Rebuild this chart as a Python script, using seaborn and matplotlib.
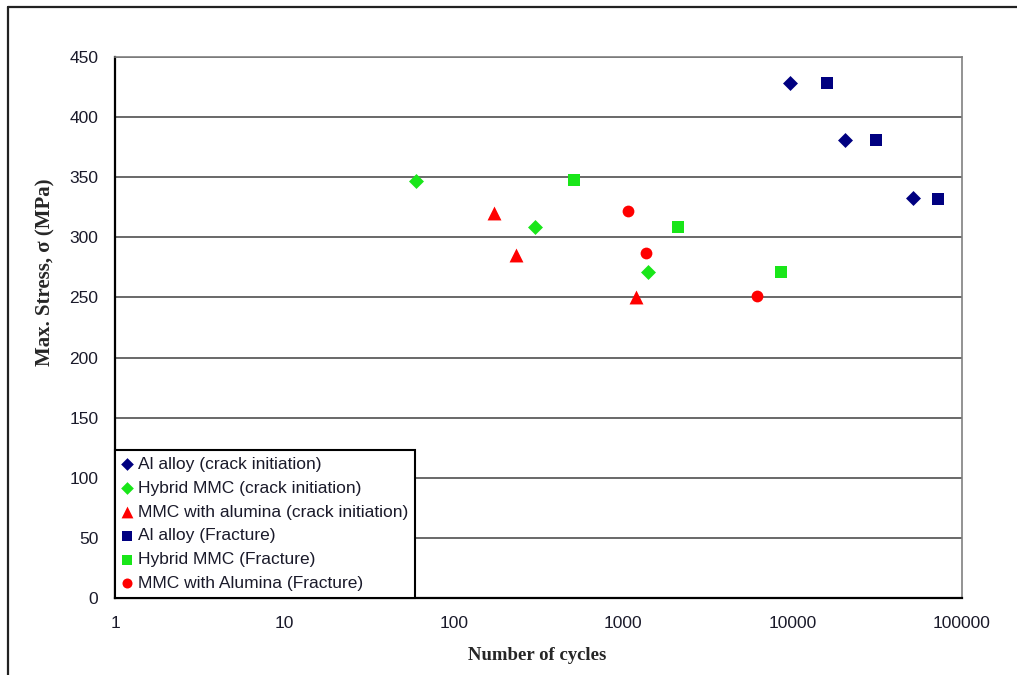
import matplotlib
matplotlib.use("Agg")
import matplotlib.pyplot as plt
from matplotlib.lines import Line2D
import seaborn as sns
import pandas as pd

# Fatigue test results: cycles to crack initiation / fracture at each stress level
series_names = [
    "Al alloy (crack initiation)",
    "Hybrid MMC (crack initiation)",
    "MMC with alumina (crack initiation)",
    "Al alloy (Fracture)",
    "Hybrid MMC (Fracture)",
    "MMC with Alumina (Fracture)",
]

al_init_cycles = [9650, 20400, 51400]
al_init_stress = [428, 381, 333]

hybrid_init_cycles = [60, 301, 1400]
hybrid_init_stress = [347, 309, 271]

alumina_init_cycles = [173, 233, 1190]
alumina_init_stress = [320, 285, 250]

al_frac_cycles = [15960, 31000, 72000]
al_frac_stress = [428, 381, 332]

hybrid_frac_cycles = [512, 2105, 8550]
hybrid_frac_stress = [348, 309, 271]

alumina_frac_cycles = [1067, 1364, 6165]
alumina_frac_stress = [322, 287, 251]

y_ticks = [0, 50, 100, 150, 200, 250, 300, 350, 400, 450]
x_ticks = [1, 10, 100, 1000, 10000, 100000]
x_tick_labels = ["1", "10", "100", "1000", "10000", "100000"]

cycles = [al_init_cycles, hybrid_init_cycles, alumina_init_cycles,
          al_frac_cycles, hybrid_frac_cycles, alumina_frac_cycles]
stresses = [al_init_stress, hybrid_init_stress, alumina_init_stress,
            al_frac_stress, hybrid_frac_stress, alumina_frac_stress]

navy = "#000080"
green = "#19E619"
red = "#FF0000"
colors = [navy, green, red, navy, green, red]
markers = ["D", "D", "^", "s", "s", "o"]
marker_area = [58, 58, 100, 84, 84, 72]

sns.set_style("white")
plt.rcParams["font.family"] = ["Liberation Sans", "DejaVu Sans"]

fig = plt.figure(figsize=(10.17, 6.75), dpi=100)
ax = fig.add_axes([115 / 1017, 1 - 598 / 675, (962 - 115) / 1017, (598 - 57) / 675])

ax.set_xscale("log")
ax.set_xlim(1, 100000)
ax.set_ylim(0, 450)

for y in y_ticks[1:]:
    ax.axhline(y, color="#404040", lw=1.1, zorder=1)

for name, xs, ys, c, m, s in zip(series_names, cycles, stresses, colors, markers, marker_area):
    df = pd.DataFrame({"cycles": xs, "stress": ys})
    sns.scatterplot(data=df, x="cycles", y="stress", ax=ax, color=c, marker=m,
                    s=s, linewidth=0, label=name, zorder=3)

ax.set_yticks(y_ticks)
ax.set_yticklabels([str(v) for v in y_ticks])
ax.set_xticks(x_ticks)
ax.set_xticklabels(x_tick_labels)
ax.xaxis.set_minor_locator(matplotlib.ticker.NullLocator())
ax.tick_params(axis="both", which="major", direction="out", length=5, width=1,
               color="black", labelsize=12.5, labelcolor="#1a1a2a")
ax.tick_params(axis="y", pad=7)
ax.tick_params(axis="x", pad=8)
ax.set_xlabel("")
ax.set_ylabel("")

for side in ["left", "bottom"]:
    ax.spines[side].set_color("black")
    ax.spines[side].set_linewidth(1.6)
for side in ["top", "right"]:
    ax.spines[side].set_color("#808080")
    ax.spines[side].set_linewidth(1.2)

leg = ax.legend(loc="lower left", bbox_to_anchor=(0, 0), borderaxespad=0,
                frameon=True, fancybox=False, fontsize=12.5, markerscale=0.85,
                handlelength=0.6, handletextpad=0.3, borderpad=0.4,
                labelspacing=0.5, scatterpoints=1)
leg.get_frame().set_edgecolor("black")
leg.get_frame().set_linewidth(1.5)
leg.get_frame().set_facecolor("white")
leg.get_frame().set_alpha(1)
for t in leg.get_texts():
    t.set_color("#1a1a2a")

fig.text(537 / 1017, 1 - 656 / 675, "Number of cycles", ha="center", va="center",
         family=["Liberation Serif", "DejaVu Serif"], weight="bold", fontsize=13.5)
fig.text(45 / 1017, 1 - 272 / 675, "Max. Stress, \u03c3 (MPa)", ha="center", va="center",
         rotation=90, family=["Liberation Serif", "DejaVu Serif"], weight="bold", fontsize=15)

# outer chart frame (top and left edges)
fig.add_artist(Line2D([8 / 1017, 1.0], [1 - 7 / 675, 1 - 7 / 675],
                      transform=fig.transFigure, color="#222222", lw=1.6))
fig.add_artist(Line2D([8 / 1017, 8 / 1017], [0.0, 1 - 7 / 675],
                      transform=fig.transFigure, color="#222222", lw=1.6))

fig.savefig("out.png", dpi=100)
